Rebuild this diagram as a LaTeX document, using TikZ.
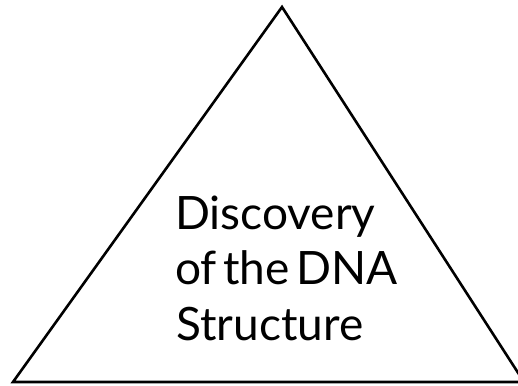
\documentclass[tikz,border=0pt]{standalone}
\usepackage{fontspec}
\setmainfont[WordSpace=0.55]{Lato}
\begin{document}
\begin{tikzpicture}[x=1pt,y=1pt,
  edge/.style={draw=black,line width=2.6pt,line join=miter},
  lbl/.style={font=\fontsize{46}{55}\selectfont,inner sep=0pt,anchor=base west}]
\useasboundingbox (0,0) rectangle (518,385);
\coordinate (apex) at (282,378);
\coordinate (bl) at (13,3);
\coordinate (br) at (524,3);
\draw[edge] (bl) -- (apex) -- (br) -- cycle;
\node[lbl] (l1) at (175,155) {Discovery};
\node[lbl] (l2) at (175,100) {of the DNA};
\node[lbl] (l3) at (176,45) {Structure};
\end{tikzpicture}
\end{document}
